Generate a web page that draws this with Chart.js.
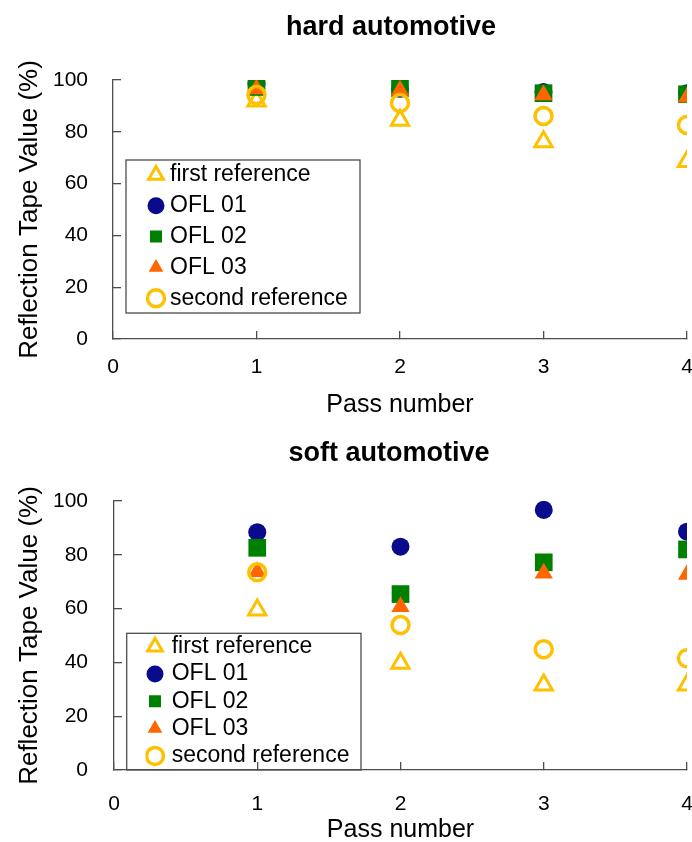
<!DOCTYPE html>
<html>
<head>
<meta charset="utf-8">
<script src="https://cdn.jsdelivr.net/npm/chart.js@4.4.1/dist/chart.umd.min.js"></script>
<style>
  body { margin: 0; width: 692px; height: 842px; overflow: hidden; position: relative; background: #fff;
         font-family: 'Liberation Sans', Arial, sans-serif; }
  .panel { position: absolute; left: 0; width: 730px; }
  .panel canvas { position: absolute; left: 0; top: 0; }
  .ttl { position: absolute; width: 300px; text-align: center; font-weight: bold; font-size: 27px;
         line-height: 32px; color: #000; }
</style>
</head>
<body>
<div class="panel" style="top:0;height:420px">
  <canvas id="hard" width="730" height="420"></canvas>
  <div class="ttl" style="left:241px;top:10px">hard automotive</div>
</div>
<div class="panel" style="top:420px;height:425px">
  <canvas id="soft" width="730" height="425"></canvas>
  <div class="ttl" style="left:239px;top:16px">soft automotive</div>
</div>
<script>
const passes = [1, 2, 3, 4];
const xTicks = [0, 1, 2, 3, 4];
const yTicks = [0, 20, 40, 60, 80, 100];
const seriesNames = ['first reference', 'OFL 01', 'OFL 02', 'OFL 03', 'second reference'];

// hard automotive
const hardFirstRef  = [91.9, 84.5, 76.2, 68.5];
const hardOfl01     = [98.5, 96.6, 95.4, 94.9];
const hardOfl02     = [97.3, 96.9, 94.9, 94.5];
const hardOfl03     = [96.5, 96.0, 94.2, 93.3];
const hardSecondRef = [94.2, 91.1, 86.1, 82.6];

// soft automotive
const softFirstRef  = [59.5, 39.7, 31.6, 31.6];
const softOfl01     = [88.4, 83.0, 96.7, 88.6];
const softOfl02     = [82.6, 65.4, 77.2, 82.0];
const softOfl03     = [73.7, 60.7, 73.1, 72.7];
const softSecondRef = [73.5, 53.9, 44.9, 41.5];

const markers = [
  { pointStyle: 'triangle', pointRadius: 10,   backgroundColor: 'rgba(0,0,0,0)', borderColor: '#FFC000', borderWidth: 3 },
  { pointStyle: 'circle',   pointRadius: 9,    backgroundColor: '#0A0A8C', borderColor: '#0A0A8C', borderWidth: 0 },
  { pointStyle: 'rect',     pointRadius: 12.5, backgroundColor: '#008000', borderColor: '#008000', borderWidth: 0 },
  { pointStyle: 'triangle', pointRadius: 10.5, backgroundColor: '#FF6600', borderColor: '#FF6600', borderWidth: 0 },
  { pointStyle: 'circle',   pointRadius: 8.5,  backgroundColor: 'rgba(0,0,0,0)', borderColor: '#FFC000', borderWidth: 3.5 },
];

Chart.defaults.font.family = "'Liberation Sans', Arial, sans-serif";
Chart.defaults.color = '#000';

const AXIS = '#4d4d4d';

// moves the legend inside the plot and draws its frame
const legendBox = {
  id: 'legendBox',
  afterLayout(chart, args, opts) {
    const lg = chart.legend;
    lg.left = opts.x; lg.top = opts.y;
    lg.right = opts.x + 240; lg.bottom = chart.height;
    lg.width = 240; lg.height = lg.bottom - lg.top;
  },
  afterDraw(chart, args, opts) {
    const ctx = chart.ctx;
    const [x, y, w, h] = opts.frame;
    ctx.save();
    ctx.strokeStyle = AXIS;
    ctx.lineWidth = 1.3;
    ctx.strokeRect(x, y, w, h);
    ctx.restore();
  }
};

function makeChart(id, series, g) {
  const datasets = series.map((vals, i) => ({
    label: seriesNames[i],
    data: passes.map((p, j) => ({ x: p, y: vals[j] })),
    order: series.length - i,
    ...markers[i],
  }));

  new Chart(document.getElementById(id), {
    type: 'scatter',
    data: { datasets },
    plugins: [legendBox],
    options: {
      responsive: false,
      animation: false,
      events: [],
      layout: { autoPadding: false, padding: { top: g.top, left: 0, right: 43, bottom: 0 } },
      plugins: {
        tooltip: { enabled: false },
        title: { display: false },
        legend: {
          position: 'chartArea',
          align: 'start',
          labels: {
            usePointStyle: true,
            boxHeight: 12,
            boxWidth: g.legBox,
            padding: g.legPad,
            font: { size: 23 },
            color: '#000',
            sort: (a, b) => a.datasetIndex - b.datasetIndex,
          }
        },
        legendBox: { x: g.legX, y: g.legY, frame: g.frame }
      },
      scales: {
        x: {
          type: 'linear', min: 0, max: 4,
          afterBuildTicks: s => { s.ticks = xTicks.map(v => ({ value: v })); },
          afterFit: s => { s.height = g.xHeight; },
          border: { color: AXIS, width: 1.3 },
          grid: { drawOnChartArea: false, tickLength: -8, color: AXIS, lineWidth: 1.3 },
          ticks: { padding: g.xPad, font: { size: 21 }, color: '#000', autoSkip: false, maxRotation: 0 },
          title: { display: true, text: 'Pass number', font: { size: 25 }, color: '#000', padding: { top: 0, bottom: 0 } }
        },
        y: {
          min: 0, max: 100,
          afterBuildTicks: s => { s.ticks = yTicks.map(v => ({ value: v })); },
          afterFit: s => { s.width = g.yWidth; },
          border: { color: AXIS, width: 1.3 },
          grid: { drawOnChartArea: false, tickLength: -8, color: AXIS, lineWidth: 1.3 },
          ticks: { padding: g.yPad, font: { size: 21 }, color: '#000', autoSkip: false },
          title: { display: true, text: 'Reflection Tape Value (%)', font: { size: 26 }, color: '#000', padding: { top: 14, bottom: 0 } }
        }
      }
    }
  });
}

makeChart('hard', [hardFirstRef, hardOfl01, hardOfl02, hardOfl03, hardSecondRef], {
  top: 80, xHeight: 81, yWidth: 113, xPad: 24, yPad: 33,
  legBox: 5, legPad: 7.8, legX: 145.7, legY: 155.7, frame: [126, 160, 234, 153]
});

makeChart('soft', [softFirstRef, softOfl01, softOfl02, softOfl03, softSecondRef], {
  top: 81, xHeight: 75, yWidth: 114, xPad: 30, yPad: 34,
  legBox: 10.4, legPad: 4.3, legX: 145.5, legY: 210.9, frame: [126.7, 213.3, 234.3, 136.7]
});
</script>
</body>
</html>
